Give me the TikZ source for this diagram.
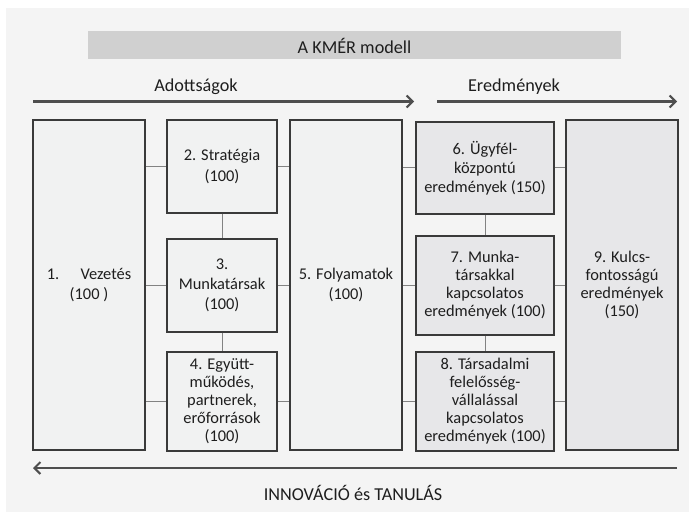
\documentclass[tikz,border=0pt]{standalone}
\usepackage{fontspec}
\setmainfont{Carlito}
\usetikzlibrary{arrows.meta}
\definecolor{panel}{HTML}{F4F4F4}
\definecolor{titlebar}{HTML}{D0D0D0}
\definecolor{boxleft}{HTML}{F1F2F2}
\definecolor{boxright}{HTML}{E7E7E9}
\definecolor{edge}{HTML}{3A3A3A}
\definecolor{linkgray}{HTML}{828282}
\definecolor{arrowgray}{HTML}{4E4E4E}
\definecolor{ink}{HTML}{1E1E1E}
\tikzset{
  txt/.style={text=ink, font=\fontsize{16.4}{18}\selectfont, align=center, inner sep=0pt},
  head/.style={text=ink, font=\fontsize{18.2}{20}\selectfont, inner sep=0pt},
  bx/.style={txt, draw=edge, line width=1.5pt, rectangle},
  lbox/.style={bx, fill=boxleft},
  rbox/.style={bx, fill=boxright},
  link/.style={draw=linkgray, line width=1pt},
  flow/.style={draw=arrowgray, line width=2.2pt, -{Straight Barb[length=6pt,width=12pt,line width=2pt]}}
}
\begin{document}
\begin{tikzpicture}[x=1pt, y=-1pt]
  \useasboundingbox (0,0) rectangle (689,513);
  % background panel
  \fill[panel] (6,8) rectangle (689,512);

  % title bar
  \fill[titlebar] (88,31) rectangle (621,59);
  \node[head] (title) at (354.5,46) {A KMÉR modell};

  % section headings and arrows
  \node[head] (hdin) at (196,86.5) {Adottságok};
  \node[head] (hdout) at (514,86.5) {Eredmények};
  \coordinate (a1s) at (33,101.5);
  \coordinate (a1e) at (414,101.5);
  \coordinate (a2s) at (437,101.5);
  \coordinate (a2e) at (677,101.5);
  \draw[flow] (a1s) -- (a1e);
  \draw[flow] (a2s) -- (a2e);

  % enabler boxes
  \node[lbox, minimum width=112pt, minimum height=330pt] (b1) at (89,285) {1.\hspace{1.3em}Vezetés\\[2pt](100 )};
  \node[lbox, minimum width=110pt, minimum height=93pt] (b2) at (222,166.5) {2. Stratégia\\[3pt](100)};
  \node[lbox, minimum width=110pt, minimum height=93pt] (b3) at (222,285.5) {3.\\[2pt]Munkatársak\\[2pt](100)};
  \node[lbox, minimum width=110pt, minimum height=99pt] (b4) at (222,401.5) {4. Együtt-\\működés,\\partnerek,\\erőforrások\\(100)};
  \node[lbox, minimum width=112pt, minimum height=330pt] (b5) at (346,285) {5. Folyamatok\\[2pt](100)};

  % result boxes
  \node[rbox, minimum width=138pt, minimum height=92pt] (b6) at (485,168) {6. Ügyfél-\\[1pt]központú\\[1pt]eredmények (150)};
  \node[rbox, minimum width=138pt, minimum height=99pt] (b7) at (485,285.5) {7. Munka-\\társakkal\\kapcsolatos\\eredmények (100)};
  \node[rbox, minimum width=138pt, minimum height=99pt] (b8) at (485,401.5) {8. Társadalmi\\felelősség-\\vállalással\\kapcsolatos\\eredmények (100)};
  \node[rbox, minimum width=112pt, minimum height=330pt] (b9) at (622,285) {9. Kulcs-\\fontosságú\\eredmények\\(150)};

  % connectors between the boxes
  \draw[link] (b1.east |- b2.west) -- (b2.west);
  \draw[link] (b2.east) -- (b5.west |- b2.east);
  \draw[link] (b1.east |- b3.west) -- (b3.west);
  \draw[link] (b3.east) -- (b5.west |- b3.east);
  \draw[link] (b1.east |- b4.west) -- (b4.west);
  \draw[link] (b4.east) -- (b5.west |- b4.east);
  \draw[link] (b2.south) -- (b3.north);
  \draw[link] (b3.south) -- (b4.north);
  \draw[link] (b5.east |- b6.west) -- (b6.west);
  \draw[link] (b6.east) -- (b9.west |- b6.east);
  \draw[link] (b5.east |- b7.west) -- (b7.west);
  \draw[link] (b7.east) -- (b9.west |- b7.east);
  \draw[link] (b5.east |- b8.west) -- (b8.west);
  \draw[link] (b8.east) -- (b9.west |- b8.east);
  \draw[link] (b6.south) -- (b7.north);
  \draw[link] (b7.south) -- (b8.north);

  % feedback arrow
  \coordinate (a3s) at (677,468);
  \coordinate (a3e) at (33,468);
  \draw[flow] (a3s) -- (a3e);
  \node[head] (foot) at (353,493) {INNOVÁCIÓ és TANULÁS};
\end{tikzpicture}
\end{document}
